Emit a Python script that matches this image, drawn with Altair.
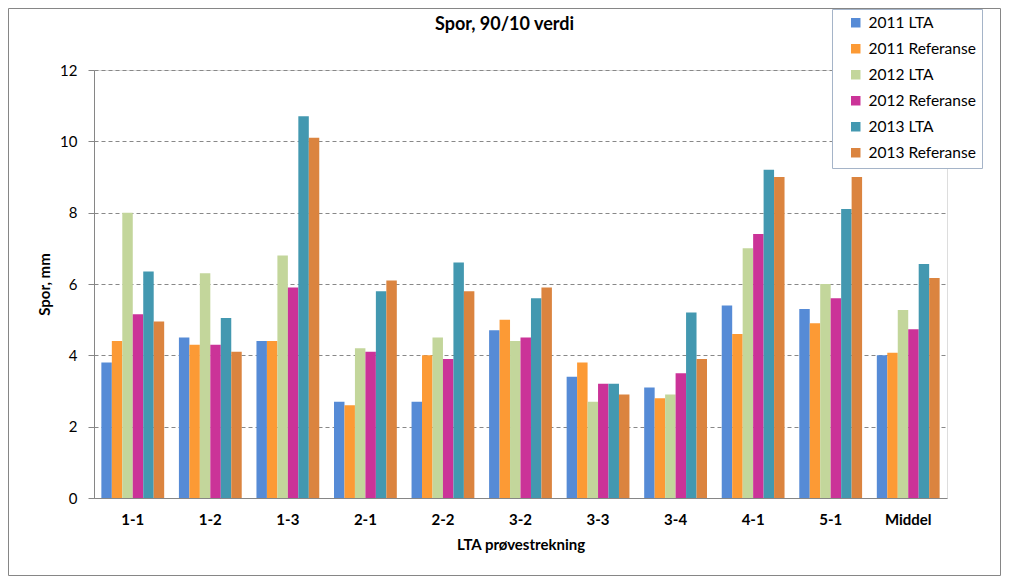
import altair as alt
import pandas as pd

categories = ["1-1", "1-2", "1-3", "2-1", "2-2", "3-2", "3-3", "3-4", "4-1", "5-1", "Middel"]
series = ["2011 LTA", "2011 Referanse", "2012 LTA", "2012 Referanse", "2013 LTA", "2013 Referanse"]
v2011_lta = [3.8, 4.5, 4.4, 2.7, 2.7, 4.7, 3.4, 3.1, 5.4, 5.3, 4.0]
v2011_ref = [4.4, 4.3, 4.4, 2.6, 4.0, 5.0, 3.8, 2.8, 4.6, 4.9, 4.07]
v2012_lta = [8.0, 6.3, 6.8, 4.2, 4.5, 4.4, 2.7, 2.9, 7.0, 6.0, 5.27]
v2012_ref = [5.15, 4.3, 5.9, 4.1, 3.9, 4.5, 3.2, 3.5, 7.4, 5.6, 4.73]
v2013_lta = [6.35, 5.05, 10.7, 5.8, 6.6, 5.6, 3.2, 5.2, 9.2, 8.1, 6.56]
v2013_ref = [4.95, 4.1, 10.1, 6.1, 5.8, 5.9, 2.9, 3.9, 9.0, 9.0, 6.17]
colors = ["#568BD6", "#FC9A35", "#C3D69B", "#CB3398", "#4398B0", "#DB843F"]

values = [v2011_lta, v2011_ref, v2012_lta, v2012_ref, v2013_lta, v2013_ref]
rows = []
for s, vals in zip(series, values):
    for c, v in zip(categories, vals):
        rows.append({"kat": c, "serie": s, "verdi": v})
df = pd.DataFrame(rows)

FONT = "Lato"
W, H = 853, 428
PL, PT, PR, PB = 86, 62, 54, 78

bars = alt.Chart(df).mark_bar().encode(
    x=alt.X("kat:N", sort=categories,
            scale=alt.Scale(paddingInner=0.19, paddingOuter=0.095),
            axis=alt.Axis(title="LTA prøvestrekning", labelAngle=0, ticks=False, tickSize=0,
                          labelFont=FONT, labelFontSize=15, labelFontWeight="bold",
                          labelColor="#000000", labelPadding=14,
                          titleFont=FONT, titleFontSize=15, titleFontWeight="bold",
                          titleColor="#000000", titlePadding=10,
                          domainColor="#868686", domainWidth=1, grid=False)),
    xOffset=alt.XOffset("serie:N", sort=series, scale=alt.Scale(paddingInner=0, paddingOuter=0)),
    y=alt.Y("verdi:Q", scale=alt.Scale(domain=[0, 12], nice=False),
            axis=alt.Axis(title="Spor, mm", values=[0, 2, 4, 6, 8, 10, 12],
                          tickSize=6, tickColor="#868686", labelPadding=11,
                          labelFont=FONT, labelFontSize=15, labelColor="#000000",
                          titleFont=FONT, titleFontSize=15, titleFontWeight="bold",
                          titleColor="#000000", titlePadding=7,
                          domainColor="#868686", grid=True, gridColor="#888888",
                          gridDash=[4, 3], gridWidth=1)),
    color=alt.Color("serie:N", sort=series,
                    scale=alt.Scale(domain=series, range=colors),
                    legend=alt.Legend(title=None, orient="none", legendX=738, legendY=-61,
                                      symbolType="square", symbolSize=90, symbolStrokeWidth=0,
                                      labelFont=FONT, labelFontSize=15.5, labelColor="#000000",
                                      labelOffset=5, padding=6, rowPadding=9,
                                      symbolOffset=10, strokeColor="#A5B4C8",
                                      fillColor="#FFFFFF")),
)

border = alt.Chart(pd.DataFrame({"a": [0]})).mark_rect(
    fill=None, stroke="#868686", strokeWidth=1
).encode(
    x=alt.value(-PL + 0.5), x2=alt.value(W + PR - 0.5),
    y=alt.value(-PT + 0.5), y2=alt.value(H + PB - 0.5),
)

chart = alt.layer(border, bars).properties(
    width=W, height=H,
    title=alt.TitleParams("Spor, 90/10 verdi", font=FONT, fontSize=18, fontWeight="bold",
                          color="#000000", anchor="middle", dx=-16, offset=-26),
    autosize=alt.AutoSizeParams(type="none"),
    padding={"left": PL, "top": PT, "right": PR, "bottom": PB},
).configure_view(stroke=None).configure(background="#FFFFFF")

chart.save("out.html", embed_options={"renderer": "svg", "actions": False})
